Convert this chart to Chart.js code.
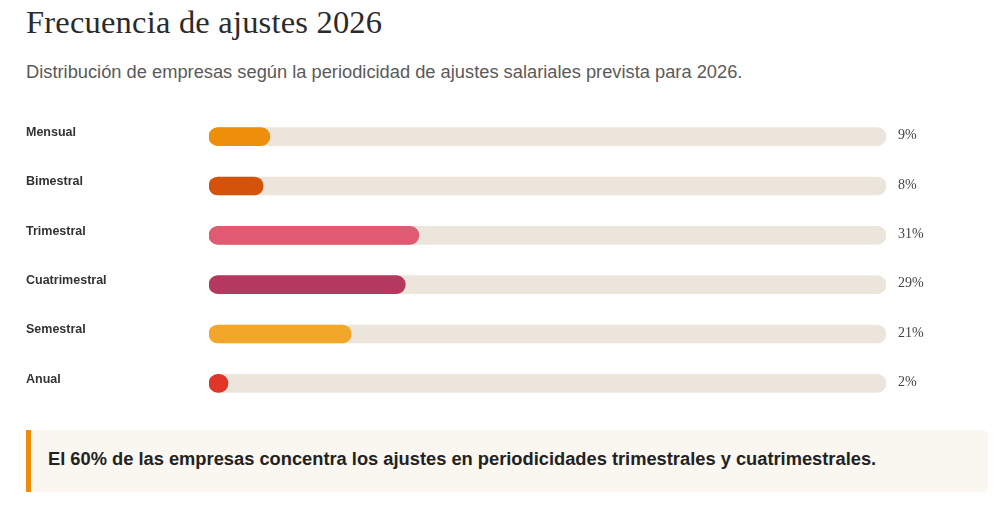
<!DOCTYPE html>
<html lang="es">
<head>
<meta charset="utf-8">
<title>Frecuencia de ajustes 2026</title>
<script src="https://cdn.jsdelivr.net/npm/chart.js@4.4.1/dist/chart.umd.min.js"></script>
<style>
  html, body { margin: 0; padding: 0; background: #fff; }
  body { width: 1000px; height: 507px; position: relative; overflow: hidden; }
  h1 {
    position: absolute; left: 26px; top: 4px; margin: 0;
    font-family: "Liberation Serif", Georgia, serif; font-weight: normal;
    font-size: 32.5px; color: #2b2b2b; letter-spacing: 0.2px;
  }
  .sub {
    position: absolute; left: 26px; top: 61px; margin: 0;
    font-family: "Liberation Sans", Arial, sans-serif;
    font-size: 18.3px; color: #5a5a5a;
  }
  .chart-box { position: absolute; left: 26px; top: 112px; width: 974px; height: 296px; }
  .note {
    position: absolute; left: 26px; top: 430px; width: 962px; height: 62px;
    background: #faf6f0; border-left: 5px solid #ee8c0c; border-radius: 0 6px 6px 0;
    box-sizing: border-box; padding-left: 17px;
    font-family: "Liberation Sans", Arial, sans-serif; font-weight: bold;
    font-size: 18.3px; color: #222; line-height: 58px;
  }
</style>
</head>
<body>
<h1>Frecuencia de ajustes 2026</h1>
<p class="sub">Distribución de empresas según la periodicidad de ajustes salariales prevista para 2026.</p>
<div class="chart-box"><canvas id="freqChart"></canvas></div>
<div class="note">El 60% de las empresas concentra los ajustes en periodicidades trimestrales y cuatrimestrales.</div>

<script>
// data
const categories = ["Mensual", "Bimestral", "Trimestral", "Cuatrimestral", "Semestral", "Anual"];
const shares = [9, 8, 31, 29, 21, 2];
const trackMax = [100, 100, 100, 100, 100, 100];
const barColors = ["#ee8f0b", "#d4520a", "#e05a72", "#b5395f", "#f2a72a", "#e2352a"];

// draws the category names on the left and the % value right of each track
const rowLabels = {
  id: "rowLabels",
  afterDatasetsDraw(chart) {
    const { ctx, chartArea, scales } = chart;
    ctx.save();
    categories.forEach((name, i) => {
      const y = scales.y.getPixelForValue(i);
      ctx.textBaseline = "middle";
      ctx.textAlign = "left";
      ctx.fillStyle = "#333";
      ctx.font = "bold 12.5px 'Liberation Sans', Arial, sans-serif";
      ctx.fillText(name, 0, y - 4);
      ctx.fillStyle = "#444";
      ctx.font = "14px 'Liberation Serif', Georgia, serif";
      ctx.fillText(shares[i] + "%", chartArea.right + 12, y - 1);
    });
    ctx.restore();
  }
};

new Chart(document.getElementById("freqChart"), {
  type: "bar",
  data: {
    labels: categories,
    datasets: [
      {
        label: "Empresas",
        data: shares,
        backgroundColor: barColors,
        borderRadius: 9,
        borderSkipped: false,
        barThickness: 18,
        minBarLength: 19,
        grouped: false,
        order: 1
      },
      {
        label: "Fondo",
        data: trackMax,
        backgroundColor: "#ebe5dc",
        borderRadius: 9,
        borderSkipped: false,
        barThickness: 18,
        grouped: false,
        order: 2
      }
    ]
  },
  options: {
    indexAxis: "y",
    responsive: true,
    maintainAspectRatio: false,
    animation: false,
    layout: { padding: { left: 183, right: 114, top: 0, bottom: 0 } },
    scales: {
      x: { display: false, min: 0, max: 100 },
      y: { display: false }
    },
    plugins: {
      legend: { display: false },
      tooltip: { enabled: false }
    }
  },
  plugins: [rowLabels]
});
</script>
</body>
</html>
